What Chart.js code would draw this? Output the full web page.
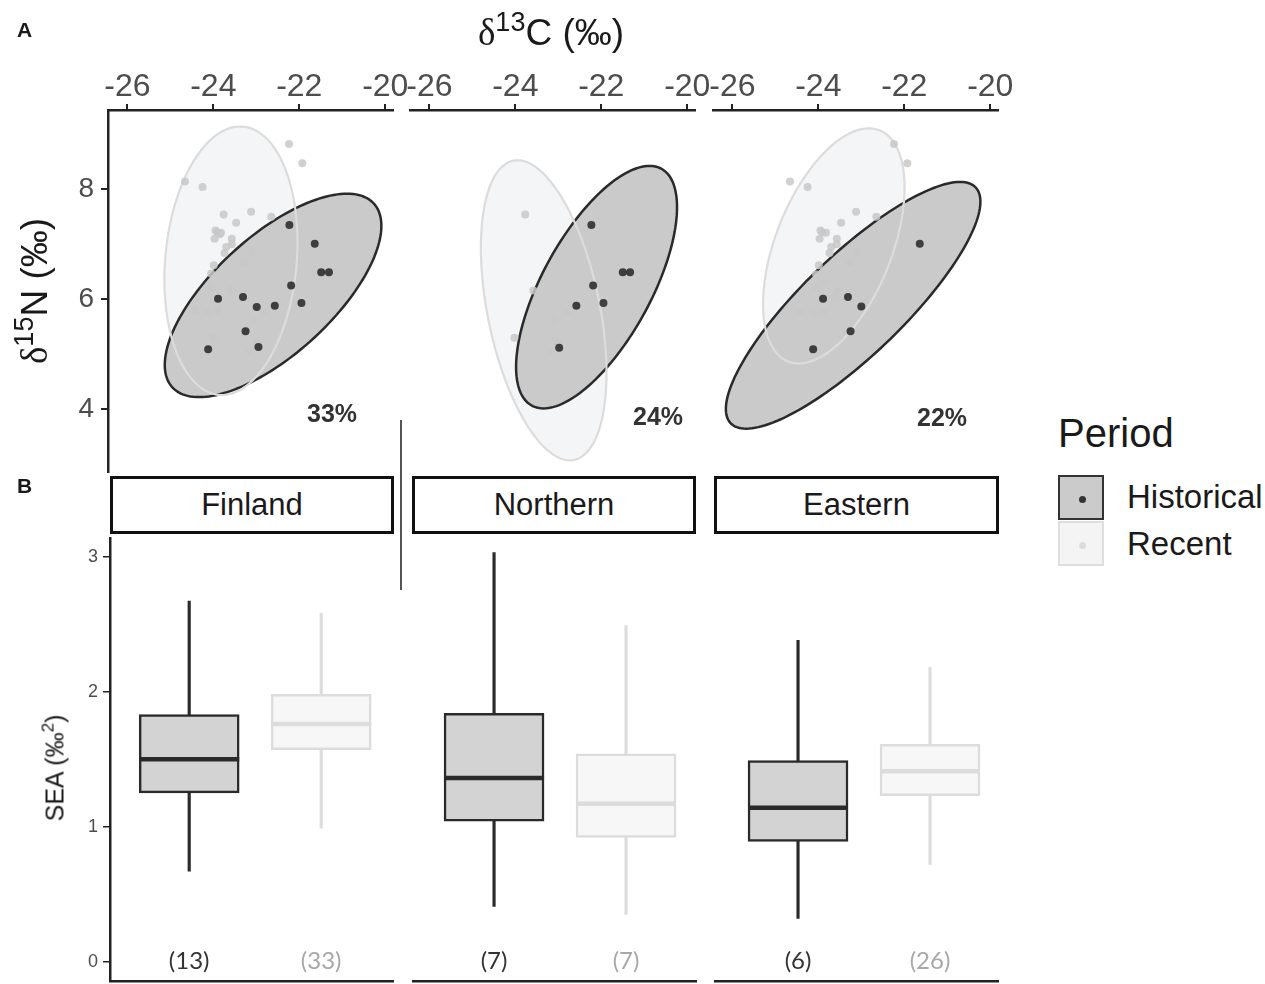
<!DOCTYPE html>
<html>
<head>
<meta charset="utf-8">
<script src="https://cdn.jsdelivr.net/npm/chart.js@4.4.1/dist/chart.umd.min.js"></script>
<style>
  html, body { margin: 0; padding: 0; background: #fff; }
  #fig { position: relative; width: 1265px; height: 984px; overflow: hidden; font-family: 'Liberation Sans', Arial, sans-serif; color: #1a1a1a; }
  #fig canvas { position: absolute; }
  .abs { position: absolute; white-space: nowrap; }
  .strip { position: absolute; box-sizing: border-box; border: 3px solid #111; height: 58px; top: 476px;
           font-size: 31px; line-height: 52px; text-align: center; color: #1a1a1a; background: #fff; }
  .pct { position: absolute; font-weight: bold; font-size: 25px; color: #333; transform: translate(-50%, -50%); }
  .key { position: absolute; left: 1058px; width: 46px; height: 45px; box-sizing: border-box; }
  .key i { position: absolute; left: 19px; top: 19px; width: 7px; height: 7px; border-radius: 50%; }
</style>
</head>
<body>
<div id="fig">
  <canvas id="topFin" width="430" height="480" style="left:0;top:0"></canvas>
  <canvas id="topNor" width="350" height="480" style="left:380px;top:0"></canvas>
  <canvas id="topEas" width="360" height="480" style="left:680px;top:0"></canvas>
  <canvas id="boxFin" width="420" height="454" style="left:0;top:530px"></canvas>
  <canvas id="boxNor" width="330" height="454" style="left:390px;top:530px"></canvas>
  <canvas id="boxEas" width="330" height="454" style="left:690px;top:530px"></canvas>

  <div class="abs" style="left:17px;top:18px;font-weight:bold;font-size:21px">A</div>
  <div class="abs" style="left:17px;top:474px;font-weight:bold;font-size:21px">B</div>

  <div class="abs" style="left:551px;top:32px;transform:translate(-50%,-50%);font-size:37px">
    <span style="font-family:'Liberation Serif',serif">δ</span><span style="font-size:27px;position:relative;top:-14px">13</span>C (‰)
  </div>
  <div class="abs" style="left:34px;top:291px;transform:translate(-50%,-50%) rotate(-90deg);font-size:37px">
    <span style="font-family:'Liberation Serif',serif">δ</span><span style="font-size:27px;position:relative;top:-14px">15</span>N (‰)
  </div>
  <div class="abs" style="left:55px;top:768px;transform:translate(-50%,-50%) rotate(-90deg);font-size:25px">
    SEA (‰<span style="font-size:17px;position:relative;top:-10px">2</span>)
  </div>

  <div class="pct" style="left:332px;top:413px">33%</div>
  <div class="pct" style="left:658px;top:416px">24%</div>
  <div class="pct" style="left:942px;top:417px">22%</div>

  <div class="abs" style="left:400px;top:420px;width:1.5px;height:170px;background:#555"></div>

  <div class="strip" style="left:110px;width:284px">Finland</div>
  <div class="strip" style="left:412px;width:284px">Northern</div>
  <div class="strip" style="left:714px;width:285px">Eastern</div>

  <div class="abs" style="left:1058px;top:411px;font-size:40px">Period</div>
  <div class="key" style="top:475px;background:#cbcbcb;border:2.5px solid #333"><i style="background:#333"></i></div>
  <div class="key" style="top:521px;background:#f4f4f4;border:2px solid #dedede"><i style="background:#dcdcdc"></i></div>
  <div class="abs" style="left:1127px;top:478px;font-size:33px">Historical</div>
  <div class="abs" style="left:1127px;top:525px;font-size:33px">Recent</div>
</div>

<script>
// ---- panel A: isotope values (d13C, d15N) ----
const finHistX = [-22.23, -21.64, -21.49, -21.31, -22.19, -21.95, -22.57, -22.99, -23.31, -23.89, -23.25, -24.12, -22.95];
const finHistY = [7.35, 7.01, 6.49, 6.49, 6.25, 5.93, 5.88, 5.86, 6.04, 6.01, 5.42, 5.09, 5.13];
const finRecX = [-22.24, -21.93, -24.66, -24.25, -23.76, -23.12, -23.47, -22.65, -23.91, -23.82, -23.97, -23.57, -23.57,
                 -23.74, -23.10, -23.27, -23.99, -24.03, -23.59, -23.50, -24.43, -24.12, -23.89, -22.79, -23.06, -24.00,
                 -22.98, -23.16, -24.05, -23.95, -23.85, -23.70, -24.10];
const finRecY = [8.82, 8.47, 8.14, 8.04, 7.54, 7.59, 7.39, 7.50, 7.22, 7.21, 7.10, 7.10, 7.00,
                 6.84, 6.85, 6.67, 6.62, 6.21, 6.16, 6.15, 5.80, 5.75, 5.79, 5.76, 5.62, 5.30,
                 5.22, 5.07, 6.47, 7.25, 7.18, 6.95, 6.25];

const norHistX = [-22.23, -21.50, -21.33, -22.19, -21.95, -22.58, -22.98];
const norHistY = [7.35, 6.49, 6.49, 6.25, 5.93, 5.88, 5.12];
const norRecX = [-23.77, -23.58, -22.81, -23.08, -24.02, -22.99, -23.18];
const norRecY = [7.54, 6.16, 5.76, 5.62, 5.30, 5.22, 5.06];

const easHistX = [-21.64, -23.89, -23.31, -23.00, -23.25, -24.12];
const easHistY = [7.01, 6.01, 6.04, 5.87, 5.42, 5.09];
const easRecX = [-22.24, -21.93, -24.66, -24.25, -23.12, -23.47, -22.65, -23.91, -23.82, -23.97, -23.57, -23.57, -23.74,
                 -23.10, -23.27, -23.99, -24.03, -23.55, -24.43, -24.12, -23.89, -24.05, -23.95, -23.70, -23.85, -23.60];
const easRecY = [8.82, 8.47, 8.14, 8.04, 7.59, 7.39, 7.50, 7.22, 7.21, 7.10, 7.10, 7.00, 6.84,
                 6.85, 6.67, 6.62, 6.21, 6.15, 5.80, 5.75, 5.79, 6.45, 7.25, 6.95, 6.30, 6.05];

// standard ellipses: [centre x, centre y, semi-axis a (dx, dy), conjugate semi-axis b (dx, dy)]
const finEllHist = [-22.61, 6.07, 1.721, 1.849, 1.840, 0];
const finEllRec  = [-23.59, 6.70, 0.214, 2.440, 1.533, 0];
const norEllHist = [-22.11, 6.22, 1.233, 2.204, 1.409, 0];
const norEllRec  = [-23.34, 5.80, -0.609, 2.727, 1.328, 0];
const easEllHist = [-23.19, 5.89, 2.488, 2.242, 1.605, 0];
const easEllRec  = [-23.64, 6.97, 0.816, 2.136, 1.430, 0];

const xTicks13C = [-26, -24, -22, -20];
const yTicks15N = [4, 6, 8];

// ---- panel B: SEA posterior boxplots (Historical, Recent) ----
const periods = ['Historical', 'Recent'];
const finLo = [0.67, 0.99], finQ1 = [1.25, 1.57], finMed = [1.50, 1.76], finQ3 = [1.83, 1.98], finHi = [2.67, 2.58];
const norLo = [0.41, 0.35], norQ1 = [1.04, 0.92], norMed = [1.36, 1.17], norQ3 = [1.84, 1.54], norHi = [3.03, 2.49];
const easLo = [0.32, 0.72], easQ1 = [0.89, 1.23], easMed = [1.14, 1.41], easQ3 = [1.49, 1.61], easHi = [2.38, 2.18];
const finN = [13, 33], norN = [7, 7], easN = [6, 26];
const yTicksSEA = [0, 1, 2, 3];

const HIST_PT = 'rgba(38,38,38,0.85)', REC_PT = 'rgba(200,200,200,0.85)';
const HIST_FILL = '#cacaca', REC_FILL = '#f4f5f6';
const HIST_LINE = '#2a2a2a', REC_LINE = '#dcdcdc';
const HIST_BOX = '#d3d3d3', REC_BOX = '#f7f7f7';
const AXIS = '#222', TICK_TXT = '#4d4d4d';

Chart.defaults.font.family = "'Liberation Sans', Arial, sans-serif";

// scale sizes are pinned so the plot areas land where the panels are
const pinWidth = w => s => { s.width = w; s.paddingTop = 0; s.paddingBottom = 0; };
const pinHeight = h => s => { s.height = h; s.paddingLeft = 0; s.paddingRight = 0; };

const ellipsePlugin = {
  id: 'ellipses',
  beforeDatasetsDraw(chart, args, opts) {
    const { ctx } = chart;
    const sx = chart.scales.x, sy = chart.scales.y;
    const path = e => {
      ctx.beginPath();
      for (let k = 0; k <= 160; k++) {
        const t = k / 160 * 2 * Math.PI;
        const px = sx.getPixelForValue(e[0] + Math.cos(t) * e[2] + Math.sin(t) * e[4]);
        const py = sy.getPixelForValue(e[1] + Math.cos(t) * e[3] + Math.sin(t) * e[5]);
        k ? ctx.lineTo(px, py) : ctx.moveTo(px, py);
      }
      ctx.closePath();
    };
    ctx.save();
    path(opts.rec); ctx.fillStyle = REC_FILL; ctx.fill();
    path(opts.hist); ctx.fillStyle = HIST_FILL; ctx.fill();
    ctx.lineWidth = 2.5; ctx.strokeStyle = HIST_LINE; ctx.stroke();
    path(opts.rec); ctx.lineWidth = 2.2; ctx.strokeStyle = REC_LINE; ctx.stroke();
    ctx.restore();
  }
};

const pts = (xs, ys) => xs.map((x, i) => ({ x, y: ys[i] }));

function scatterPanel(id, hx, hy, rx, ry, ellHist, ellRec, padding, showY) {
  return new Chart(document.getElementById(id), {
    type: 'scatter',
    data: {
      datasets: [
        { data: pts(hx, hy), backgroundColor: HIST_PT, borderWidth: 0, pointRadius: 4 },
        { data: pts(rx, ry), backgroundColor: REC_PT, borderWidth: 0, pointRadius: 4 },
      ],
    },
    options: {
      responsive: false, animation: false, events: [],
      layout: { padding, autoPadding: false },
      plugins: { legend: { display: false }, tooltip: { enabled: false }, ellipses: { hist: ellHist, rec: ellRec } },
      scales: {
        x: {
          type: 'linear', position: 'top', min: -26.45, max: -19.82,
          afterBuildTicks: s => { s.ticks = xTicks13C.map(v => ({ value: v })); },
          ticks: { font: { size: 32 }, color: TICK_TXT, padding: -2 },
          grid: { drawOnChartArea: false, tickLength: 6, color: AXIS, lineWidth: 2 },
          border: { display: true, color: AXIS, width: 2.5 },
          afterFit: pinHeight(110),
        },
        y: {
          type: 'linear', display: showY, min: 2.86, max: 9.44,
          afterBuildTicks: s => { s.ticks = yTicks15N.map(v => ({ value: v })); },
          ticks: { font: { size: 28 }, color: TICK_TXT, padding: 7 },
          grid: { drawOnChartArea: false, tickLength: 7, color: AXIS, lineWidth: 2 },
          border: { display: true, color: AXIS, width: 2.5 },
          afterFit: pinWidth(showY ? 108 : 0),
        },
      },
    },
    plugins: [ellipsePlugin],
  });
}

scatterPanel('topFin', finHistX, finHistY, finRecX, finRecY, finEllHist, finEllRec, { left: 0, right: 37, top: 0, bottom: 8 }, true);
scatterPanel('topNor', norHistX, norHistY, norRecX, norRecY, norEllHist, norEllRec, { left: 30, right: 35, top: 0, bottom: 8 }, false);
scatterPanel('topEas', easHistX, easHistY, easRecX, easRecY, easEllHist, easEllRec, { left: 33, right: 42, top: 0, bottom: 8 }, false);

const countPlugin = {
  id: 'counts',
  afterDatasetsDraw(chart, args, opts) {
    const { ctx } = chart;
    ctx.save();
    ctx.font = "24px Lato, 'Open Sans', sans-serif";
    ctx.textAlign = 'center';
    ctx.textBaseline = 'middle';
    opts.n.forEach((n, i) => {
      ctx.fillStyle = i === 0 ? '#333' : '#a8a8a8';
      ctx.fillText('(' + n + ')', chart.scales.x.getPixelForValue(i + 1), chart.scales.y.getPixelForValue(0));
    });
    ctx.restore();
  }
};

function boxPanel(id, lo, q1, med, q3, hi, n, padding, xMin, showY) {
  const at = (arr, f) => arr.map((v, i) => ({ x: i + 1, y: f(v, i) }));
  return new Chart(document.getElementById(id), {
    type: 'bar',
    data: {
      labels: periods,
      datasets: [
        { type: 'scatter', label: 'median', data: at(med, v => v), pointStyle: 'line', pointRadius: 50, pointHoverRadius: 50,
          pointBorderWidth: 4.5, pointBorderColor: [HIST_LINE, REC_LINE], order: 0 },
        { label: 'box', data: at(q1, (v, i) => [v, q3[i]]), backgroundColor: [HIST_BOX, REC_BOX],
          borderColor: [HIST_LINE, REC_LINE], borderWidth: 2.5, borderSkipped: false, barThickness: 100, grouped: false, order: 1 },
        { label: 'whisker', data: at(lo, (v, i) => [v, hi[i]]), backgroundColor: [HIST_LINE, REC_LINE],
          borderWidth: 0, barThickness: 2.5, grouped: false, order: 2 },
      ],
    },
    options: {
      responsive: false, animation: false, events: [],
      layout: { padding, autoPadding: false },
      plugins: { legend: { display: false }, tooltip: { enabled: false }, counts: { n } },
      scales: {
        x: {
          type: 'linear', min: xMin, max: xMin + 2.144, offset: false,
          ticks: { display: false }, grid: { display: false },
          border: { display: true, color: AXIS, width: 2.5 },
          afterFit: pinHeight(0),
        },
        y: {
          type: 'linear', display: showY, min: -0.143, max: 3.138,
          afterBuildTicks: s => { s.ticks = yTicksSEA.map(v => ({ value: v })); },
          ticks: { font: { size: 18 }, color: TICK_TXT, padding: 5 },
          grid: { drawOnChartArea: false, tickLength: 7, color: AXIS, lineWidth: 1.5 },
          border: { display: true, color: AXIS, width: 2.5 },
          afterFit: pinWidth(showY ? 110 : 0),
        },
      },
    },
    plugins: [countPlugin],
  });
}

boxPanel('boxFin', finLo, finQ1, finMed, finQ3, finHi, finN, { left: 0, right: 27, top: 8, bottom: 3 }, 0.40, true);
boxPanel('boxNor', norLo, norQ1, norMed, norQ3, norHi, norN, { left: 23, right: 24, top: 8, bottom: 3 }, 0.386, false);
boxPanel('boxEas', easLo, easQ1, easMed, easQ3, easHi, easN, { left: 25, right: 22, top: 8, bottom: 3 }, 0.371, false);
</script>
</body>
</html>
